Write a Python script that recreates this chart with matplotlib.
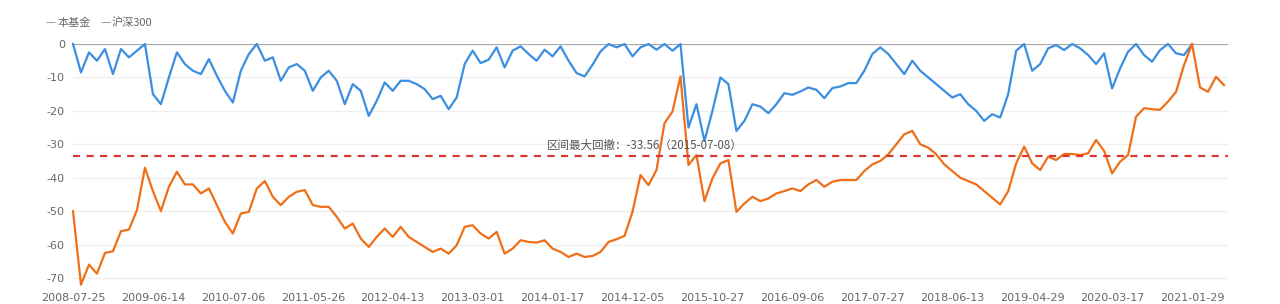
import matplotlib
matplotlib.use('Agg')
import matplotlib.pyplot as plt
import numpy as np

plt.rcParams['font.family'] = ['Noto Sans CJK SC', 'DejaVu Sans']

# ---------------- data ----------------
series_names = ['本基金', '沪深300']

fund = [0, -8.5, -2.5, -5, -1.5, -9, -1.5, -4, -2, 0,
        -15, -18, -10, -2.5, -6, -8, -9, -4.5, -9.5, -14,
        -17.5, -8, -3, 0, -5, -4, -11, -7, -6, -8,
        -14, -10, -8, -11, -18, -12, -14, -21.5, -17, -11.5,
        -14, -11, -11, -12, -13.5, -16.5, -15.5, -19.5, -16, -6,
        -2, -5.7, -4.7, -1, -7, -2, -0.7, -3, -5, -1.7,
        -3.7, -0.7, -5, -8.7, -9.7, -6.2, -2.2, 0, -1, 0,
        -3.7, -1, 0, -1.7, 0, -2, 0, -25, -18, -29,
        -20, -10, -12, -26, -23, -18, -18.7, -20.7, -18, -14.7,
        -15.2, -14.2, -13, -13.7, -16.2, -13.2, -12.7, -11.7, -11.7, -8,
        -3, -1, -3, -6, -9, -5, -8, -10, -12, -14,
        -16, -15, -18, -20, -23, -21, -22, -15, -2, 0,
        -8, -6, -1.3, -0.3, -1.8, 0, -1.3, -3.3, -6, -2.8,
        -13.3, -7.3, -2.3, 0, -3.3, -5.3, -1.8, 0, -2.8, -3.3,
        0]

hs300 = [-50, -72, -66, -68.7, -62.5, -62, -56, -55.5, -49.7, -37,
         -44, -50, -42.7, -38.2, -42, -42, -44.7, -43.2, -48.2, -53.2,
         -56.7, -50.7, -50.2, -43.2, -41, -45.7, -48.2, -45.7, -44.2, -43.7,
         -48.2, -48.7, -48.7, -51.7, -55.2, -53.7, -58.2, -60.7, -57.7, -55.2,
         -57.7, -54.7, -57.7, -59.2, -60.7, -62.2, -61.2, -62.7, -60.2, -54.7,
         -54.2, -56.7, -58.2, -56.2, -62.7, -61.2, -58.7, -59.2, -59.4, -58.7,
         -61.2, -62.2, -63.7, -62.7, -63.7, -63.4, -62.2, -59.2, -58.4, -57.4,
         -50.2, -39.2, -42.2, -37.7, -23.7, -20.2, -9.7, -36.2, -33.2, -47,
         -40.2, -35.7, -34.7, -50.2, -47.7, -45.7, -47, -46.2, -44.7, -44,
         -43.2, -44, -42, -40.7, -42.7, -41.2, -40.7, -40.7, -40.7, -38,
         -36, -35, -33, -30, -27, -26, -30, -31, -33, -36,
         -38, -40, -41, -42, -44, -46, -48, -44, -35.7, -30.7,
         -35.7, -37.7, -33.7, -34.7, -32.9, -32.9, -33.2, -32.7, -28.7, -32,
         -38.7, -35.2, -33.2, -21.7, -19.2, -19.5, -19.7, -17.2, -14.3, -6.3,
         0, -13, -14.3, -9.8, -12.3]

date_labels = ['2008-07-25', '2009-06-14', '2010-07-06', '2011-05-26', '2012-04-13',
               '2013-03-01', '2014-01-17', '2014-12-05', '2015-10-27', '2016-09-06',
               '2017-07-27', '2018-06-13', '2019-04-29', '2020-03-17', '2021-01-29']
label_step = 10

yticks = [0, -10, -20, -30, -40, -50, -60, -70]

max_dd = -33.56
max_dd_date = '2015-07-08'

# ---------------- figure ----------------
W, H = 1280, 304
fig = plt.figure(figsize=(W / 100, H / 100), dpi=100)
fig.patch.set_facecolor('white')

top_px, bottom_px = 44, 291.4
left_px, right_px = 73, 1228
ax = fig.add_axes([left_px / W, 1 - bottom_px / H,
                   (right_px - left_px) / W, (bottom_px - top_px) / H])
ax.set_facecolor('white')

x_fund = np.arange(len(fund))
x_hs = np.arange(len(hs300))

# grid lines
for v in yticks[1:]:
    ax.axhline(v, color='#efefef', lw=0.9, zorder=1)
ax.axhline(0, color='#a8a8a8', lw=0.9, zorder=2)

ax.plot(x_fund, fund, color='#3b8ee0', lw=1.6, clip_on=False, zorder=3,
        solid_joinstyle='round')
ax.plot(x_hs, hs300, color='#ee6f18', lw=1.6, clip_on=False, zorder=4,
        solid_joinstyle='round')

ax.axhline(max_dd, color='#d63a33', lw=1.6, ls=(0, (3.2, 2.9)), zorder=5)

ax.text(59.3, -30.2, f'区间最大回撤：{max_dd:.2f}（{max_dd_date}）',
        fontsize=8.3, color='#555555', ha='left', va='center', zorder=6)

ax.set_xlim(0, 144.5)
ax.set_ylim(-74, 0)
for s in ax.spines.values():
    s.set_visible(False)

ax.set_yticks(yticks)
ax.set_yticklabels([str(v) for v in yticks])
xt = [i * label_step for i in range(len(date_labels))]
ax.set_xticks(xt)
ax.set_xticklabels(date_labels)
ax.tick_params(axis='y', length=0, labelsize=8, colors='#666666', pad=5.8)
ax.tick_params(axis='x', length=0, labelsize=8, colors='#666666', pad=1.5)
for lab in ax.get_xticklabels() + ax.get_yticklabels():
    lab.set_fontfamily(['DejaVu Sans'])

# legend (top-left)
ly = 1 - 23 / H
fig.text(45 / W, ly, '—', fontsize=8, color='#888888', va='center', ha='left')
fig.text(58 / W, ly, series_names[0], fontsize=8, color='#666666', va='center', ha='left')
fig.text(100 / W, ly, '—', fontsize=8, color='#888888', va='center', ha='left')
fig.text(112 / W, ly, series_names[1], fontsize=8, color='#666666', va='center', ha='left')

fig.savefig('out.png', dpi=100, facecolor='white')
